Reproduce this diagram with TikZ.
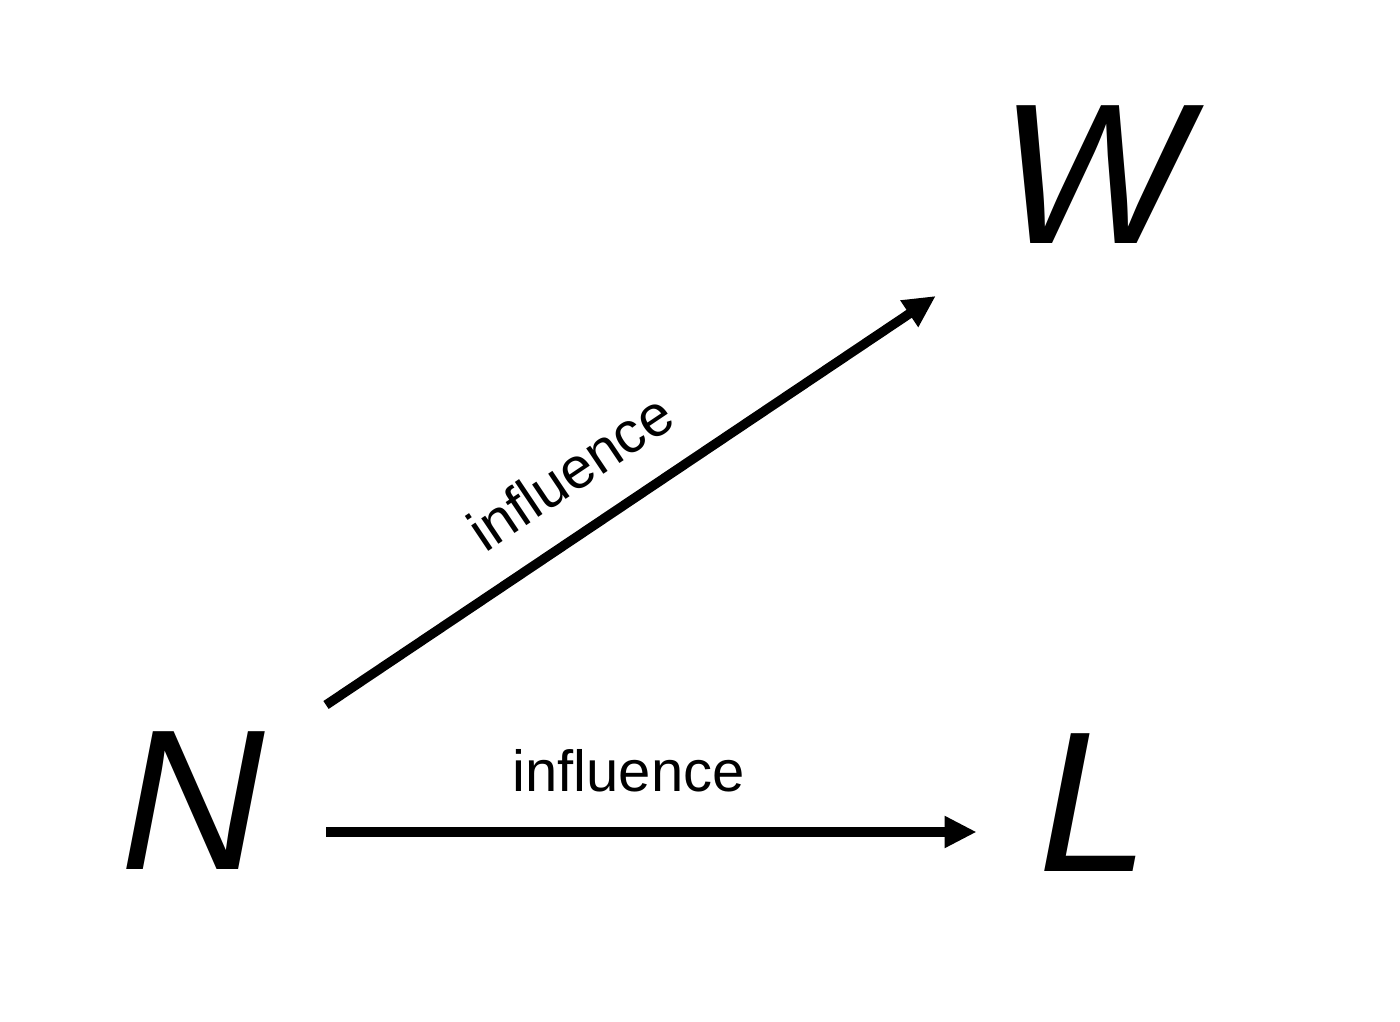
\documentclass[tikz,border=0pt]{standalone}
\usepackage{fontspec}
\setmainfont{Liberation Sans}
\usetikzlibrary{arrows.meta}
\tikzset{
  letter/.style={inner sep=0pt, font=\fontsize{57}{57}\selectfont\itshape},
  link/.style={line width=0.095cm, -{Triangle[length=0.32cm, width=0.3cm]}},
  tag/.style={inner sep=0pt, font=\fontsize{16.5}{16.5}\selectfont}
}
\begin{document}
\begin{tikzpicture}
  \useasboundingbox (0,0) rectangle (14,10.22);
  \node[letter] (N) at (1.93,2.21) {N};
  \node[letter] (W) at (10.94,8.47) {W};
  \node[letter] (L) at (10.94,2.19) {L};
  \draw[link] ([xshift=0.6cm,yshift=-0.31cm]N.east) -- ([xshift=-0.61cm,yshift=-0.29cm]L.west)
    node[tag, pos=0.465, above=0.35cm] {influence};
  \draw[link] ([xshift=0.6cm,yshift=0.96cm]N.east) -- ([xshift=-0.63cm,yshift=-1.21cm]W.west)
    node[tag, pos=0.453, sloped, above=0.32cm] {influence};
\end{tikzpicture}
\end{document}
